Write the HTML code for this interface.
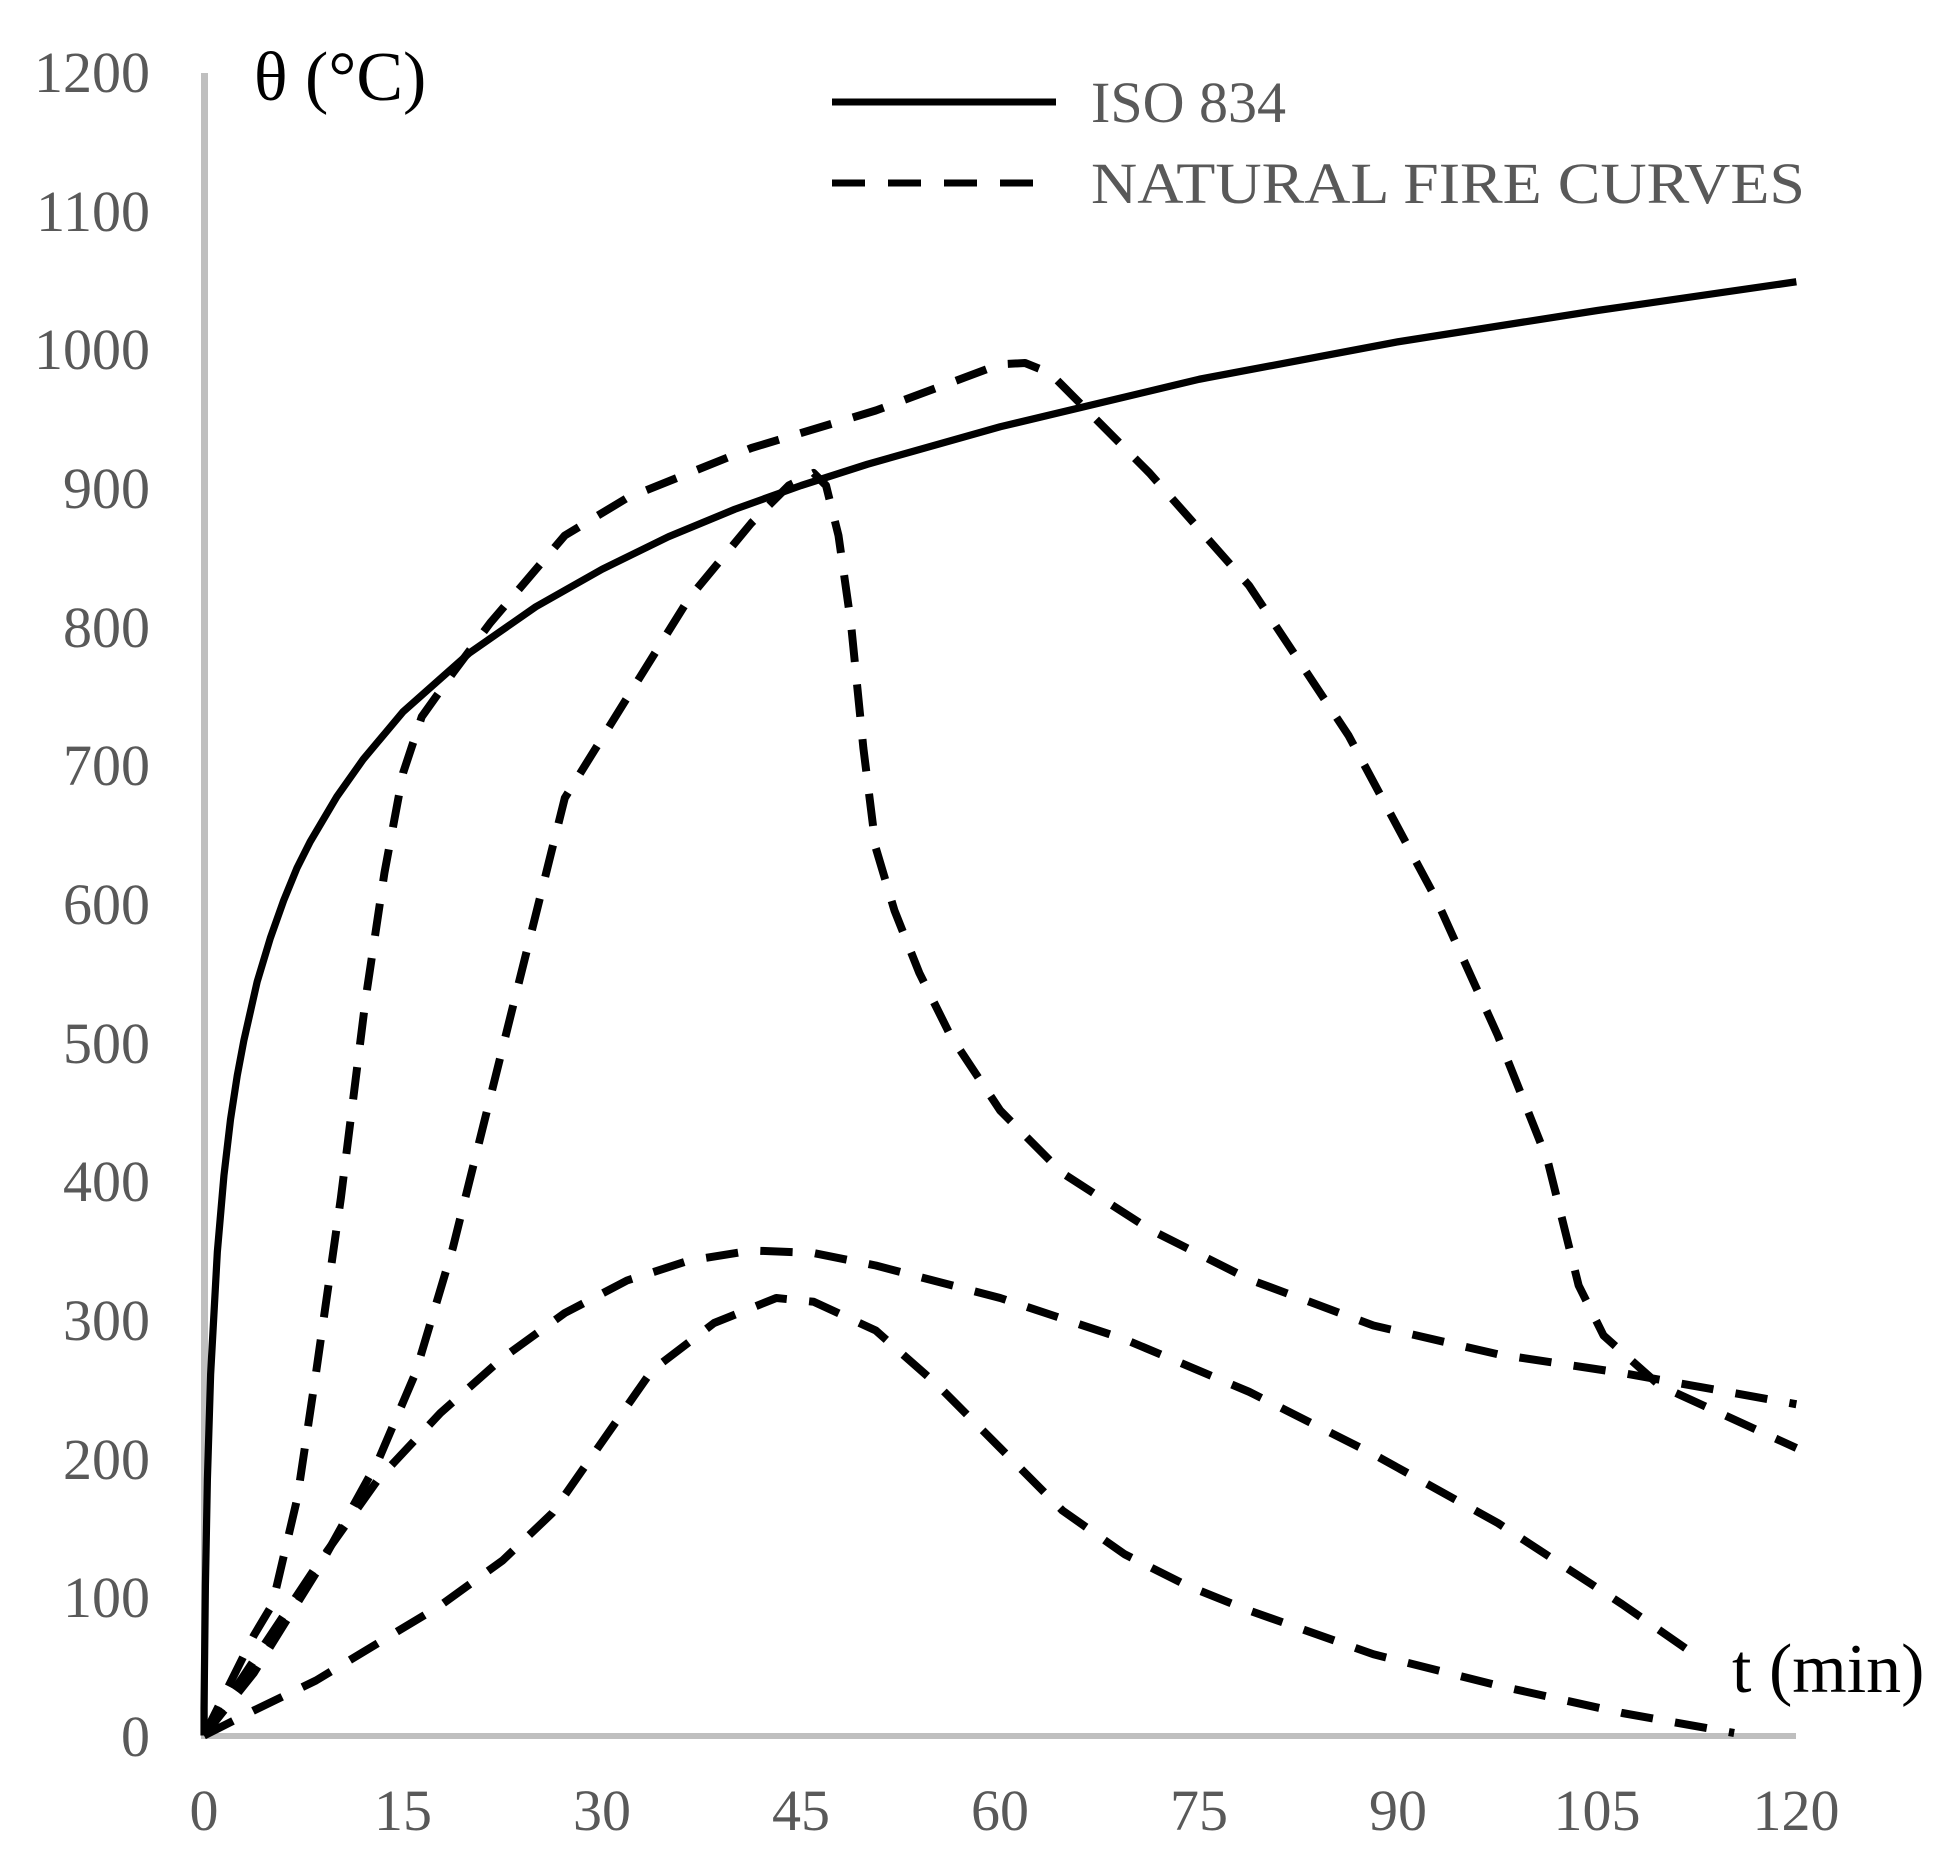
<!DOCTYPE html>
<html><head><meta charset="utf-8"><style>html,body{margin:0;padding:0;background:#fff}svg{display:block}</style></head>
<body>
<svg width="1957" height="1855" viewBox="0 0 1957 1855" xmlns="http://www.w3.org/2000/svg" font-family="Liberation Serif, serif">
<rect width="1957" height="1855" fill="#fff"/>
<g fill="#595959" font-size="58" text-anchor="end">
<text x="150" y="1756">0</text>
<text x="150" y="1617">100</text>
<text x="150" y="1479">200</text>
<text x="150" y="1340">300</text>
<text x="150" y="1201">400</text>
<text x="150" y="1063">500</text>
<text x="150" y="924">600</text>
<text x="150" y="785">700</text>
<text x="150" y="647">800</text>
<text x="150" y="508">900</text>
<text x="150" y="369">1000</text>
<text x="150" y="231">1100</text>
<text x="150" y="92">1200</text>
</g>
<g fill="#595959" font-size="58" text-anchor="middle">
<text x="204" y="1830">0</text>
<text x="403" y="1830">15</text>
<text x="602" y="1830">30</text>
<text x="801" y="1830">45</text>
<text x="1000" y="1830">60</text>
<text x="1199" y="1830">75</text>
<text x="1398" y="1830">90</text>
<text x="1597" y="1830">105</text>
<text x="1796" y="1830">120</text>
</g>
<rect x="201" y="73" width="7" height="1666" fill="#bfbfbf"/>
<rect x="201" y="1733" width="1595" height="6" fill="#bfbfbf"/>
<text x="254" y="100" font-size="70" fill="#000">θ (°C)</text>
<text x="1732" y="1692" font-size="70" fill="#000">t (min)</text>
<line x1="832" y1="102" x2="1056" y2="102" stroke="#000" stroke-width="7"/>
<line x1="832" y1="183" x2="1056" y2="183" stroke="#000" stroke-width="7" stroke-dasharray="33,23"/>
<text x="1091" y="122" font-size="58" fill="#595959">ISO 834</text>
<text x="1091" y="203" font-size="58" fill="#595959" textLength="714" lengthAdjust="spacingAndGlyphs">NATURAL FIRE CURVES</text>
<g transform="translate(5,-2) scale(1.244,1.25)" fill="none" stroke="#000" stroke-linejoin="round">
<path stroke-width="5.8" d="M160,1390 L160,1368 L161.1,1270 L162.7,1185 L165.3,1101 L170.7,1003 L176,942 L181.3,897 L186.7,862 L192,834 L202.7,787 L213.3,752 L224,722 L234.7,696 L245.3,675 L266.7,639 L288,609 L320,571 L373.3,524 L426.7,487 L480,457 L533.3,431 L586.7,409 L640,390 L693.3,373 L800,343 L960,305 L1120,275 L1280,250 L1440,227"/>
<g stroke-width="6.4" stroke-dasharray="26,18">
<path d="M160,1390 L180,1350 L200,1310 L215,1285 L235,1200 L250,1100 L270,960 L290,800 L305,700 L320,620 L335,575 L360,540 L390,500 L450,430 L500,400 L600,360 L700,330 L800,293 L820,292 L840,300 L870,330 L920,380 L1000,470 L1080,590 L1150,720 L1200,830 L1240,930 L1265,1030 L1285,1070 L1330,1110 L1440,1160"/>
<path d="M160,1390 L200,1340 L250,1260 L300,1170 L330,1100 L360,1000 L385,900 L410,800 L435,700 L450,640 L475,600 L500,560 L550,480 L600,420 L630,390 L650,380 L660,390 L670,430 L680,500 L690,600 L700,680 L715,730 L735,780 L760,830 L800,890 L850,940 L920,985 L1000,1025 L1100,1062 L1200,1085 L1300,1100 L1440,1125"/>
<path d="M160,1390 L200,1330 L250,1255 L300,1185 L350,1132 L400,1088 L450,1052 L500,1026 L550,1010 L600,1002 L650,1004 L700,1014 L800,1040 L900,1073 L1000,1115 L1100,1165 L1200,1220 L1300,1285 L1365,1330"/>
<path d="M160,1390 L200,1370 L250,1346 L300,1316 L350,1286 L400,1250 L440,1212 L480,1155 L520,1098 L570,1060 L620,1040 L650,1043 L700,1066 L750,1110 L800,1160 L850,1210 L900,1245 L950,1270 L1000,1290 L1100,1325 L1200,1350 L1300,1372 L1390,1388"/>
</g>
</g>
</svg>
</body></html>
